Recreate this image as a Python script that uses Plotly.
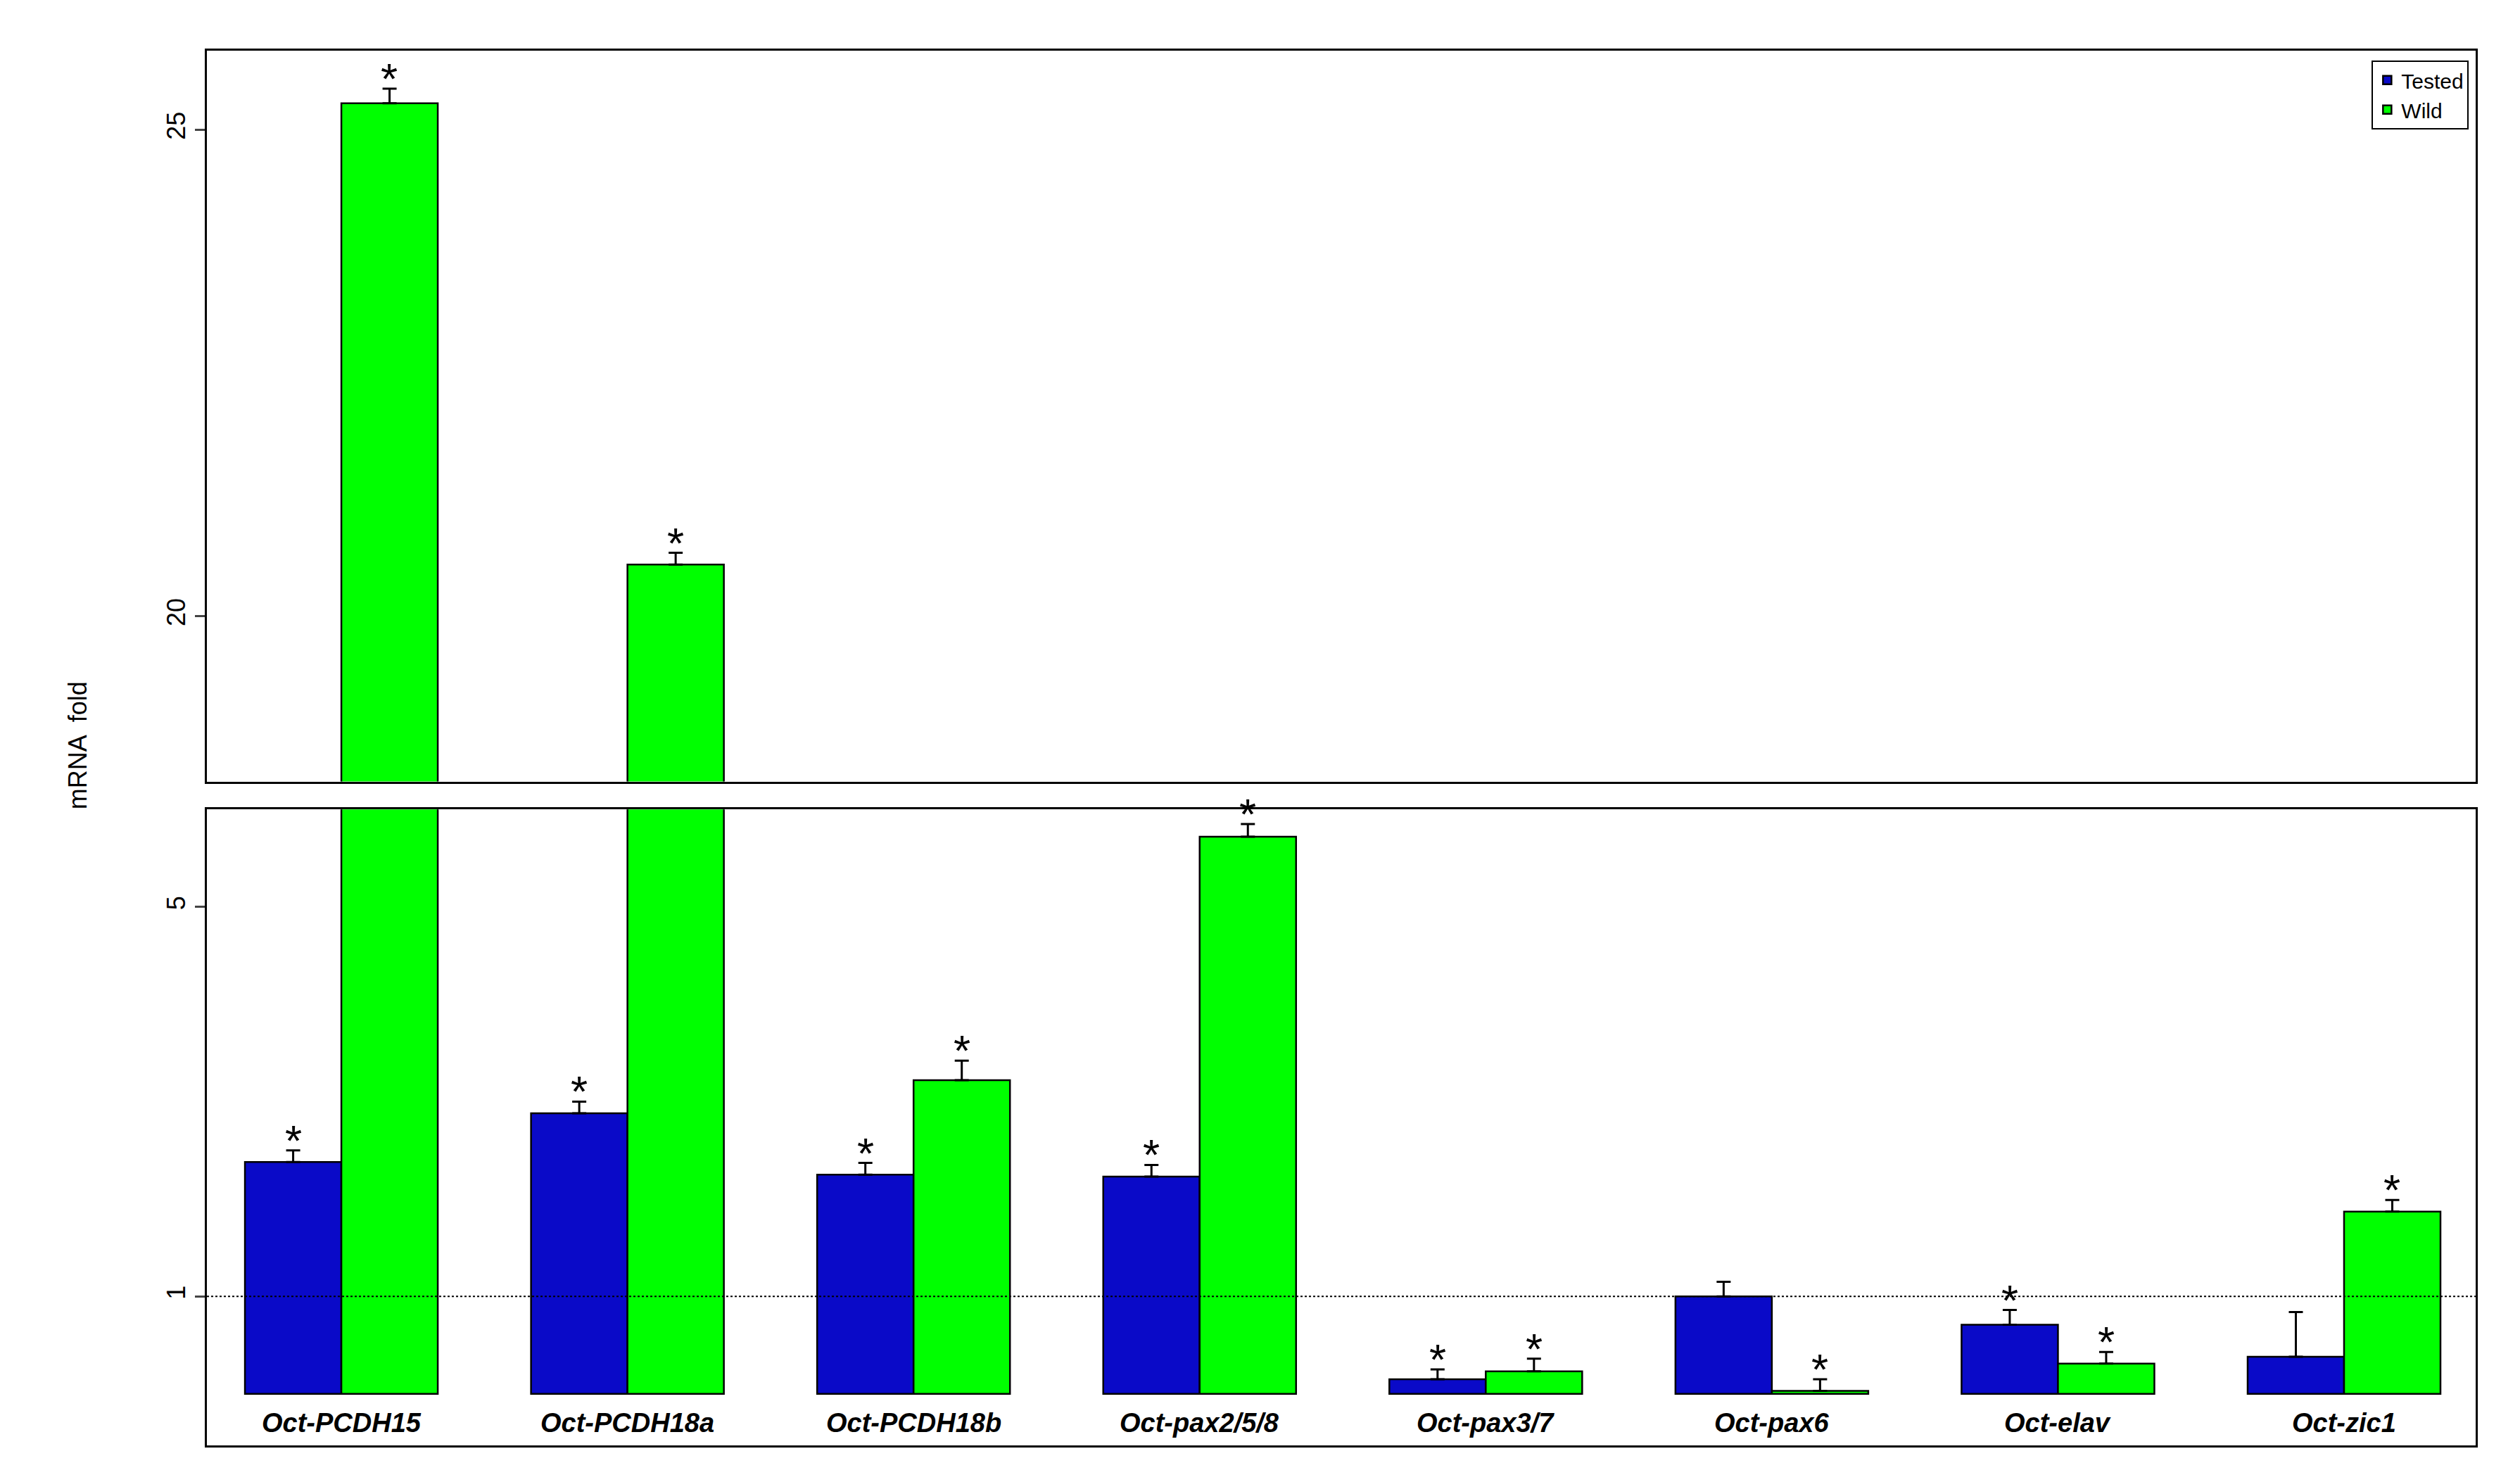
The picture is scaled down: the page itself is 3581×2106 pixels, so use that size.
import plotly.graph_objects as go

genes = ["Oct-PCDH15", "Oct-PCDH18a", "Oct-PCDH18b", "Oct-pax2/5/8",
         "Oct-pax3/7", "Oct-pax6", "Oct-elav", "Oct-zic1"]
tested = [2.38, 2.88, 2.25, 2.23, 0.15, 1.0, 0.71, 0.38]
tested_err = [0.12, 0.12, 0.12, 0.12, 0.10, 0.15, 0.15, 0.46]
wild = [25.27, 20.53, 3.22, 5.72, 0.23, 0.03, 0.31, 1.87]
wild_err = [0.15, 0.12, 0.20, 0.13, 0.13, 0.12, 0.12, 0.12]
tested_star = [True, True, True, True, True, False, True, False]
wild_star = [True, True, True, True, True, True, True, True]

BLUE = "#0a0ac8"
GREEN = "#00ff00"
FONT = "Liberation Sans"

fig = go.Figure()
for yax, xax, show in [("y", "x", False), ("y2", "x2", True)]:
    for name, vals, errs, col in [("Tested", tested, tested_err, BLUE),
                                  ("Wild", wild, wild_err, GREEN)]:
        fig.add_trace(go.Bar(
            x=genes, y=vals, name=name, showlegend=show, offsetgroup=name,
            marker=dict(color=col, line=dict(color="black", width=2.5)),
            error_y=dict(type="data", symmetric=False, array=errs,
                         arrayminus=[0]*len(errs), color="black",
                         thickness=3, width=10),
            xaxis=xax, yaxis=yax))

ann = []
for i, g in enumerate(genes):
    ann.append(dict(x=g, y=-0.3, xref="x", yref="y", text=g, showarrow=False,
                    font=dict(family=FONT, size=38, color="black"),
                    textangle=0))
ann[-1]  # keep list
for i, g in enumerate(genes):
    ann[i]["text"] = "<b><i>" + g + "</i></b>"

def star(i, val, err, shift):
    top = val + err
    yref = "y2" if top > 10 else "y"
    ann.append(dict(x=i + shift, y=top, xref="x", yref=yref, text="*",
                    showarrow=False, yanchor="bottom", yshift=-22,
                    font=dict(family=FONT, size=62, color="black")))

for i in range(len(genes)):
    if tested_star[i]:
        star(i, tested[i], tested_err[i], -0.168)
    if wild_star[i]:
        star(i, wild[i], wild_err[i], 0.168)

ann.append(dict(x=-0.064, y=0.502, xref="paper", yref="paper",
                text="mRNA  fold", textangle=-90, showarrow=False,
                font=dict(family=FONT, size=36, color="black")))

fig.update_layout(
    width=3581, height=2106, paper_bgcolor="white", plot_bgcolor="white",
    margin=dict(l=286, r=71, t=64, b=60),
    barmode="group", bargap=0.326, bargroupgap=0,
    font=dict(family=FONT, size=34, color="black"),
    annotations=ann,
    xaxis=dict(domain=[0, 1], range=[-0.47, 7.46], showticklabels=False,
               ticks="", showline=True, mirror=True, linecolor="black",
               linewidth=2.5, showgrid=False),
    xaxis2=dict(matches="x", anchor="y2", showticklabels=False, ticks="",
                showline=True, mirror=True, linecolor="black",
                linewidth=2.5, showgrid=False),
    yaxis=dict(domain=[0, 0.456], range=[-0.53, 6.0], tickvals=[1, 5],
               tickangle=-90, ticks="outside", ticklen=14, tickwidth=2.5,
               showline=True, mirror=True, linecolor="black",
               linewidth=2.5, showgrid=False, zeroline=False,
               tickfont=dict(size=36)),
    yaxis2=dict(domain=[0.476, 1], range=[18.3, 25.81], tickvals=[20, 25],
                tickangle=-90, ticks="outside", ticklen=14, tickwidth=2.5,
                showline=True, mirror=True, linecolor="black",
                linewidth=2.5, showgrid=False, zeroline=False,
                anchor="x2", tickfont=dict(size=36)),
    legend=dict(x=0.997, y=0.993, xanchor="right", yanchor="top",
                bordercolor="black", borderwidth=2, bgcolor="white",
                font=dict(size=30), tracegroupgap=0),
    shapes=[dict(type="line", xref="x domain", yref="y", x0=0, x1=1,
                 y0=1, y1=1, line=dict(color="black", width=2, dash="dot"))],
)
fig.write_html("out.html")
